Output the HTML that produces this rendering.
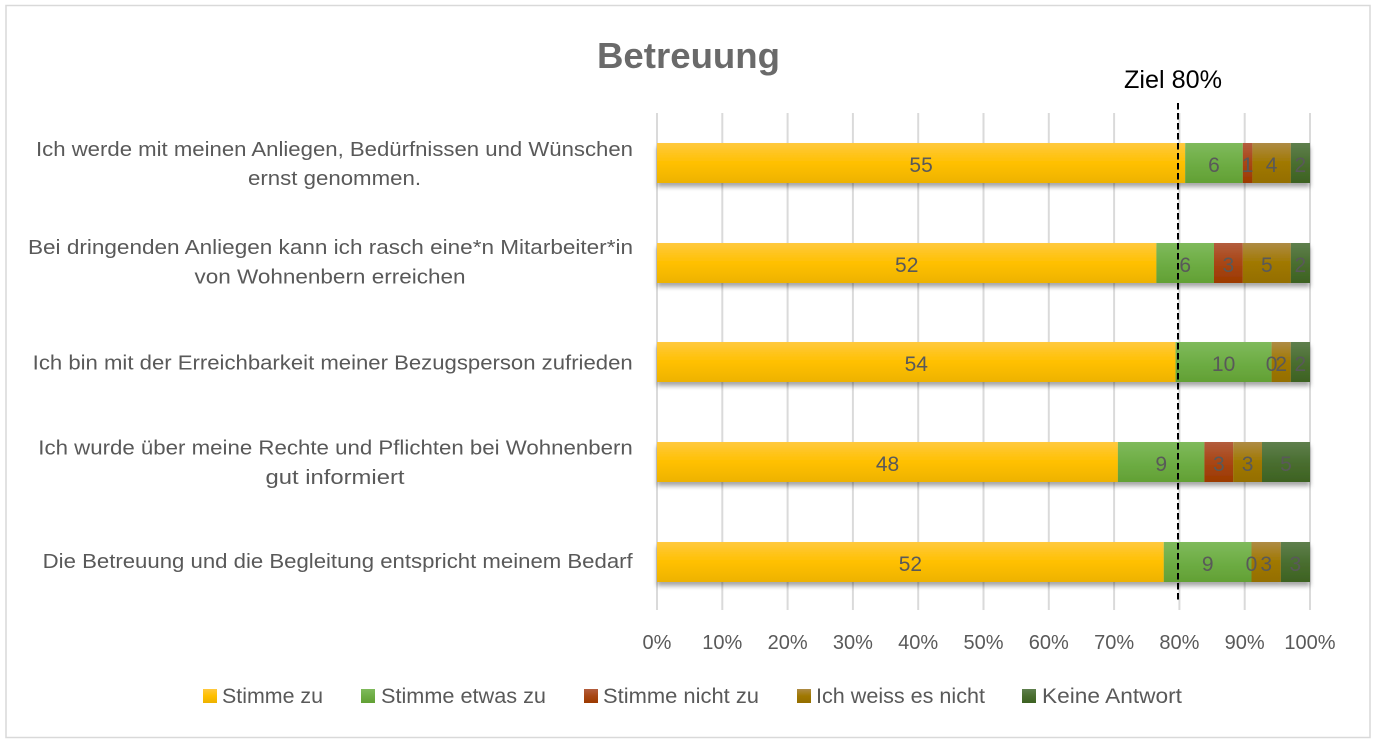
<!DOCTYPE html>
<html>
<head>
<meta charset="utf-8">
<style>
  html,body{margin:0;padding:0;background:#fff;}
  svg{display:block;}
  text{font-family:"Liberation Sans", sans-serif;}
</style>
</head>
<body>
<svg width="1377" height="745" viewBox="0 0 1377 745" xmlns="http://www.w3.org/2000/svg">
  <defs>
    <linearGradient id="gY" x1="0" y1="0" x2="0" y2="1">
      <stop offset="0" stop-color="#FFC93F"/>
      <stop offset="0.5" stop-color="#FFC000"/>
      <stop offset="1" stop-color="#EDB200"/>
    </linearGradient>
    <linearGradient id="gG" x1="0" y1="0" x2="0" y2="1">
      <stop offset="0" stop-color="#7FBA5C"/>
      <stop offset="0.5" stop-color="#6EAD45"/>
      <stop offset="1" stop-color="#62A034"/>
    </linearGradient>
    <linearGradient id="gR" x1="0" y1="0" x2="0" y2="1">
      <stop offset="0" stop-color="#B35D3E"/>
      <stop offset="0.5" stop-color="#A84614"/>
      <stop offset="1" stop-color="#9C3A00"/>
    </linearGradient>
    <linearGradient id="gB" x1="0" y1="0" x2="0" y2="1">
      <stop offset="0" stop-color="#AE8B45"/>
      <stop offset="0.5" stop-color="#A07800"/>
      <stop offset="1" stop-color="#946E00"/>
    </linearGradient>
    <linearGradient id="gD" x1="0" y1="0" x2="0" y2="1">
      <stop offset="0" stop-color="#5E7F4E"/>
      <stop offset="0.5" stop-color="#4A6E30"/>
      <stop offset="1" stop-color="#3D6222"/>
    </linearGradient>
    <filter id="sh" x="-5%" y="-30%" width="110%" height="180%">
      <feDropShadow dx="0" dy="4" stdDeviation="2.5" flood-color="#000" flood-opacity="0.35"/>
    </filter>
  </defs>

  <!-- chart border -->
  <rect x="6" y="5.5" width="1364" height="732" fill="#fff" stroke="#D9D9D9" stroke-width="1.5"/>

  <!-- title -->
  <text x="597" y="68" font-size="36" font-weight="bold" fill="#6A6A6A" textLength="183" lengthAdjust="spacingAndGlyphs">Betreuung</text>

  <!-- gridlines -->
  <g stroke="#DADADA" stroke-width="2">
    <line x1="657" y1="113" x2="657" y2="610"/>
    <line x1="722.3" y1="113" x2="722.3" y2="610"/>
    <line x1="787.6" y1="113" x2="787.6" y2="610"/>
    <line x1="852.9" y1="113" x2="852.9" y2="610"/>
    <line x1="918.2" y1="113" x2="918.2" y2="610"/>
    <line x1="983.5" y1="113" x2="983.5" y2="610"/>
    <line x1="1048.8" y1="113" x2="1048.8" y2="610"/>
    <line x1="1114.1" y1="113" x2="1114.1" y2="610"/>
    <line x1="1179.4" y1="113" x2="1179.4" y2="610"/>
    <line x1="1244.7" y1="113" x2="1244.7" y2="610"/>
    <line x1="1310" y1="113" x2="1310" y2="610"/>
  </g>

  <!-- bars -->
  <g filter="url(#sh)">
    <rect x="657" y="143" width="528.2" height="40" fill="url(#gY)"/>
    <rect x="1185.2" y="143" width="57.6" height="40" fill="url(#gG)"/>
    <rect x="1242.8" y="143" width="9.6" height="40" fill="url(#gR)"/>
    <rect x="1252.4" y="143" width="38.4" height="40" fill="url(#gB)"/>
    <rect x="1290.8" y="143" width="19.2" height="40" fill="url(#gD)"/>
  </g>
  <g filter="url(#sh)">
    <rect x="657" y="243" width="499.4" height="40" fill="url(#gY)"/>
    <rect x="1156.4" y="243" width="57.6" height="40" fill="url(#gG)"/>
    <rect x="1214" y="243" width="28.8" height="40" fill="url(#gR)"/>
    <rect x="1242.8" y="243" width="48" height="40" fill="url(#gB)"/>
    <rect x="1290.8" y="243" width="19.2" height="40" fill="url(#gD)"/>
  </g>
  <g filter="url(#sh)">
    <rect x="657" y="342" width="518.6" height="40" fill="url(#gY)"/>
    <rect x="1175.6" y="342" width="96" height="40" fill="url(#gG)"/>
    <rect x="1271.6" y="342" width="19.2" height="40" fill="url(#gB)"/>
    <rect x="1290.8" y="342" width="19.2" height="40" fill="url(#gD)"/>
  </g>
  <g filter="url(#sh)">
    <rect x="657" y="442" width="460.9" height="40" fill="url(#gY)"/>
    <rect x="1117.9" y="442" width="86.5" height="40" fill="url(#gG)"/>
    <rect x="1204.4" y="442" width="28.8" height="40" fill="url(#gR)"/>
    <rect x="1233.2" y="442" width="28.8" height="40" fill="url(#gB)"/>
    <rect x="1262" y="442" width="48" height="40" fill="url(#gD)"/>
  </g>
  <g filter="url(#sh)">
    <rect x="657" y="542" width="506.8" height="40" fill="url(#gY)"/>
    <rect x="1163.8" y="542" width="87.7" height="40" fill="url(#gG)"/>
    <rect x="1251.5" y="542" width="29.3" height="40" fill="url(#gB)"/>
    <rect x="1280.8" y="542" width="29.2" height="40" fill="url(#gD)"/>
  </g>

  <!-- data labels -->
  <g font-size="21" fill="#595959" text-anchor="middle">
    <text x="921.1" y="172">55</text>
    <text x="1214" y="172">6</text>
    <text x="1247.6" y="172">1</text>
    <text x="1271.6" y="172">4</text>
    <text x="1300.4" y="172">2</text>

    <text x="906.7" y="272">52</text>
    <text x="1185.2" y="272">6</text>
    <text x="1228.4" y="272">3</text>
    <text x="1266.8" y="272">5</text>
    <text x="1300.4" y="272">2</text>

    <text x="916.3" y="371">54</text>
    <text x="1223.6" y="371">10</text>
    <text x="1271.6" y="371">0</text>
    <text x="1281.2" y="371">2</text>
    <text x="1300.4" y="371">2</text>

    <text x="887.5" y="471">48</text>
    <text x="1161.2" y="471">9</text>
    <text x="1218.8" y="471">3</text>
    <text x="1247.6" y="471">3</text>
    <text x="1286" y="471">5</text>

    <text x="910.4" y="571">52</text>
    <text x="1207.7" y="571">9</text>
    <text x="1251.5" y="571">0</text>
    <text x="1266.2" y="571">3</text>
    <text x="1295.4" y="571">3</text>
  </g>

  <!-- target dashed line -->
  <line x1="1178" y1="103" x2="1178" y2="600" stroke="#000" stroke-width="2" stroke-dasharray="6.5,3.5"/>
  <text x="1124" y="88" font-size="25" fill="#000" textLength="98" lengthAdjust="spacingAndGlyphs">Ziel 80%</text>

  <!-- category labels -->
  <g font-size="20" fill="#595959">
    <text x="36" y="156" textLength="597" lengthAdjust="spacingAndGlyphs">Ich werde mit meinen Anliegen, Bedürfnissen und Wünschen</text>
    <text x="248" y="185" textLength="173" lengthAdjust="spacingAndGlyphs">ernst genommen.</text>

    <text x="28" y="254" textLength="605" lengthAdjust="spacingAndGlyphs">Bei dringenden Anliegen kann ich rasch eine*n Mitarbeiter*in</text>
    <text x="194.5" y="283.5" textLength="271" lengthAdjust="spacingAndGlyphs">von Wohnenbern erreichen</text>

    <text x="32.7" y="369.5" textLength="600" lengthAdjust="spacingAndGlyphs">Ich bin mit der Erreichbarkeit meiner Bezugsperson zufrieden</text>

    <text x="38.3" y="454.5" textLength="594.5" lengthAdjust="spacingAndGlyphs">Ich wurde über meine Rechte und Pflichten bei Wohnenbern</text>
    <text x="265.5" y="484" textLength="139" lengthAdjust="spacingAndGlyphs">gut informiert</text>

    <text x="42.7" y="568" textLength="590" lengthAdjust="spacingAndGlyphs">Die Betreuung und die Begleitung entspricht meinem Bedarf</text>
  </g>

  <!-- x-axis tick labels -->
  <g font-size="20" fill="#595959" text-anchor="middle">
    <text x="657" y="649">0%</text>
    <text x="722.3" y="649">10%</text>
    <text x="787.6" y="649">20%</text>
    <text x="852.9" y="649">30%</text>
    <text x="918.2" y="649">40%</text>
    <text x="983.5" y="649">50%</text>
    <text x="1048.8" y="649">60%</text>
    <text x="1114.1" y="649">70%</text>
    <text x="1179.4" y="649">80%</text>
    <text x="1244.7" y="649">90%</text>
    <text x="1310" y="649">100%</text>
  </g>

  <!-- legend -->
  <rect x="203" y="689" width="14" height="14" fill="url(#gY)"/>
  <rect x="361" y="689" width="14" height="14" fill="url(#gG)"/>
  <rect x="584" y="689" width="14" height="14" fill="url(#gR)"/>
  <rect x="797" y="689" width="14" height="14" fill="url(#gB)"/>
  <rect x="1022" y="689" width="14" height="14" fill="url(#gD)"/>
  <g font-size="21" fill="#595959">
    <text x="222" y="703" textLength="101" lengthAdjust="spacingAndGlyphs">Stimme zu</text>
    <text x="381" y="703" textLength="165" lengthAdjust="spacingAndGlyphs">Stimme etwas zu</text>
    <text x="603" y="703" textLength="156" lengthAdjust="spacingAndGlyphs">Stimme nicht zu</text>
    <text x="816" y="703" textLength="169" lengthAdjust="spacingAndGlyphs">Ich weiss es nicht</text>
    <text x="1042" y="703" textLength="140" lengthAdjust="spacingAndGlyphs">Keine Antwort</text>
  </g>
</svg>
</body>
</html>
